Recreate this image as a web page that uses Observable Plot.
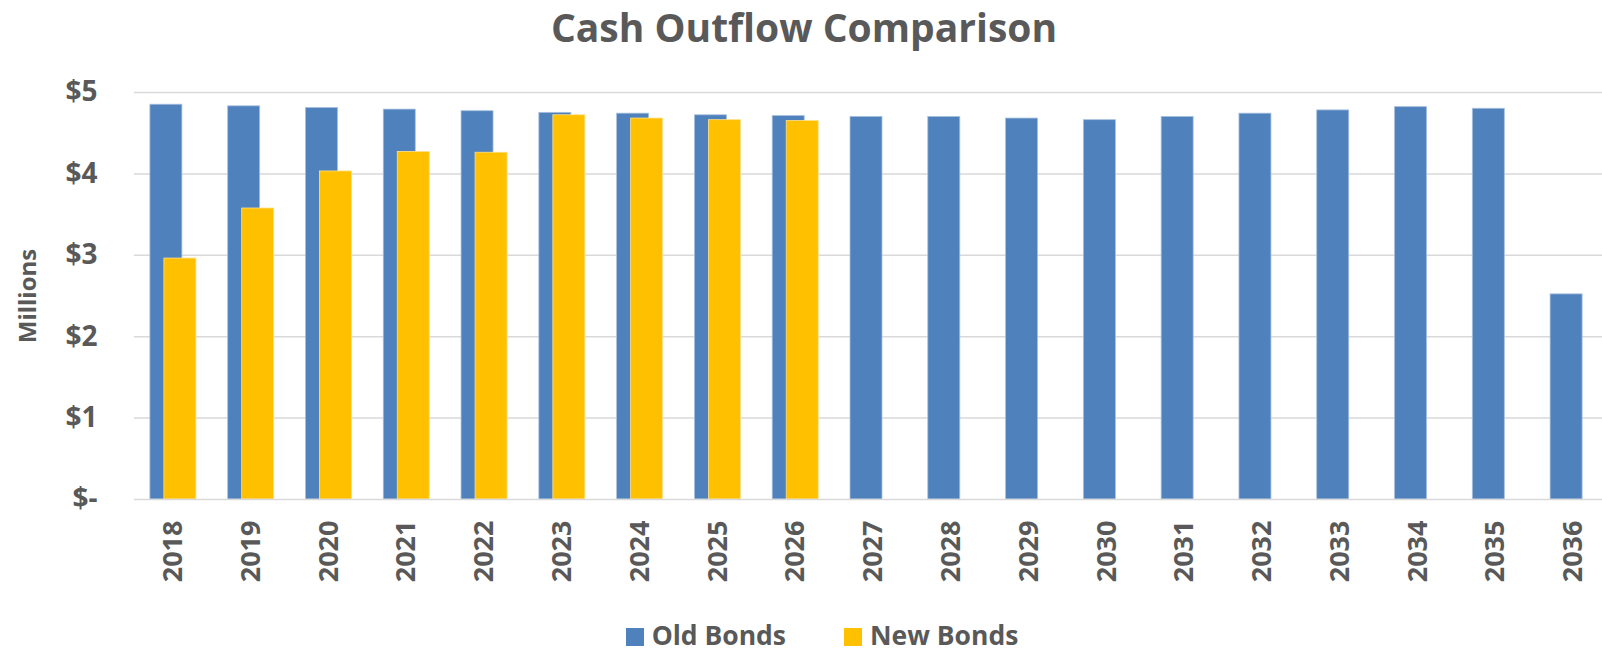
<!DOCTYPE html>
<html>
<head>
<meta charset="utf-8">
<script src="https://cdn.jsdelivr.net/npm/d3@7"></script>
<script src="https://cdn.jsdelivr.net/npm/@observablehq/plot@0.6"></script>
<style>
  html, body { margin: 0; padding: 0; background: #fff; overflow: hidden; }
  #wrap { width: 1602px; height: 655px; overflow: hidden; position: relative; font-family: "Open Sans", sans-serif; color: #595959; }
  #title { height: 60px; line-height: 53px; text-align: center; font-size: 39px; font-weight: 700; padding-left: 6px; box-sizing: border-box; }
  #chart { height: 540px; width: 1602px; overflow: hidden; }
  #chart svg { max-width: none !important; }
  #legend { height: 55px; box-sizing: border-box; padding-top: 18px; display: flex; justify-content: center; align-items: flex-start; gap: 58px; font-size: 26.5px; line-height: 35px; font-weight: 700; padding-left: 42px; }
  .item { display: flex; align-items: center; gap: 8px; }
  .sw { width: 18px; height: 18px; display: inline-block; margin-top: 3px; }
</style>
</head>
<body>
<div id="wrap">
  <div id="title">Cash Outflow Comparison</div>
  <div id="chart"></div>
  <div id="legend"></div>
</div>
<script>
const years = ["2018","2019","2020","2021","2022","2023","2024","2025","2026","2027","2028","2029","2030","2031","2032","2033","2034","2035","2036"];
const oldBonds = [4.85,4.83,4.81,4.79,4.77,4.75,4.74,4.72,4.71,4.70,4.70,4.68,4.66,4.70,4.74,4.78,4.82,4.80,2.52];
const newYears = ["2018","2019","2020","2021","2022","2023","2024","2025","2026"];
const newBonds = [2.96,3.575,4.03,4.27,4.26,4.72,4.68,4.66,4.65];
const seriesNames = ["Old Bonds","New Bonds"];
const seriesColors = ["#4F81BD","#FFC000"];
const yTicks = [0,1,2,3,4,5];
const yTitle = "Millions";

const oldData = years.map((y,i) => ({year: y, value: oldBonds[i]}));
const newData = newYears.map((y,i) => ({year: y, value: newBonds[i]}));

const W = 1612, step = (W - 134) / years.length, barW = 32, inset = (step - barW) / 2, shift = 7;

const chart = Plot.plot({
  width: W,
  height: 540,
  marginLeft: 134,
  marginRight: 0,
  marginTop: 32,
  marginBottom: 101,
  style: {fontFamily: "Open Sans, sans-serif", fontWeight: 700, fontSize: "28px", color: "#595959", background: "#fff", overflow: "visible", maxWidth: "none"},
  x: {type: "band", domain: years, padding: 0, round: false},
  y: {domain: [0, 5]},
  marks: [
    Plot.gridY(yTicks.slice(1), {stroke: "#d9d9d9", strokeOpacity: 1, strokeWidth: 1.5}),
    Plot.barY(oldData, {x: "year", y: "value", fill: seriesColors[0], insetLeft: inset, insetRight: inset, dx: -shift, stroke: "#a7c0de", strokeWidth: 0.8}),
    Plot.barY(newData, {x: "year", y: "value", fill: seriesColors[1], insetLeft: inset, insetRight: inset, dx: shift, stroke: "#ffe08a", strokeWidth: 0.8}),
    Plot.ruleY([0], {stroke: "#d9d9d9", strokeWidth: 1.5}),
    Plot.axisX({tickRotate: -90, tickSize: 0, tickPadding: 21, label: null, fontSize: 27}),
    Plot.axisY({ticks: yTicks, tickSize: 0, tickPadding: 37, tickFormat: d => d === 0 ? "$-" : "$" + d, label: null, fontSize: 28}),
    Plot.text([yTitle], {frameAnchor: "left", rotate: -90, textAnchor: "middle", dx: -106, fontSize: 24, fontWeight: 700, fill: "#595959"})
  ]
});
chart.style.maxWidth = "none";
document.getElementById("chart").appendChild(chart);

const legend = document.getElementById("legend");
seriesNames.forEach((n, i) => {
  const it = document.createElement("div");
  it.className = "item";
  const sw = document.createElement("span");
  sw.className = "sw";
  sw.style.background = seriesColors[i];
  const t = document.createElement("span");
  t.textContent = n;
  it.appendChild(sw); it.appendChild(t);
  legend.appendChild(it);
});
</script>
</body>
</html>
